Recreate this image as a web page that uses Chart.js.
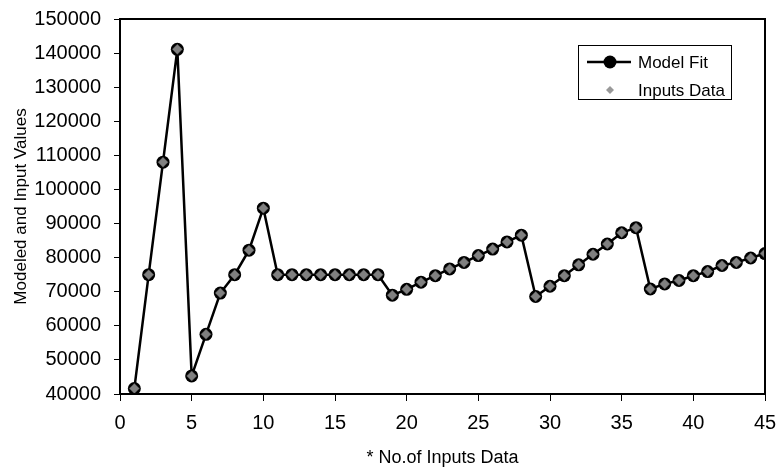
<!DOCTYPE html>
<html>
<head>
<meta charset="utf-8">
<script src="https://cdn.jsdelivr.net/npm/chart.js@4.4.0/dist/chart.umd.min.js"></script>
<style>
  html, body { margin: 0; padding: 0; background: #fff; }
  #wrap { width: 777px; height: 470px; }
</style>
</head>
<body>
<div id="wrap"><canvas id="fitChart"></canvas></div>
<script>
// Data
const sampleNo = [1, 2, 3, 4, 5, 6, 7, 8, 9, 10, 11, 12, 13, 14, 15, 16, 17, 18, 19, 20, 21, 22, 23,
  24, 25, 26, 27, 28, 29, 30, 31, 32, 33, 34, 35, 36, 37, 38, 39, 40, 41, 42, 43, 44, 45];
const modelFit = [41600, 75000, 108000, 141100, 45300, 57500, 69600, 75000, 82200, 94500,
  75000, 75000, 75000, 75000, 75000, 75000, 75000, 75000,
  69000, 70700, 72800, 74700, 76700, 78600, 80600, 82500, 84600, 86600,
  68600, 71600, 74700, 77900, 81000, 84000, 87300, 88800,
  70800, 72300, 73300, 74700, 75900, 77700, 78600, 79900, 81200];
const inputsData = [41600, 75000, 108000, 141100, 45300, 57500, 69600, 75000, 82200, 94500,
  75000, 75000, 75000, 75000, 75000, 75000, 75000, 75000,
  69000, 70700, 72800, 74700, 76700, 78600, 80600, 82500, 84600, 86600,
  68600, 71600, 74700, 77900, 81000, 84000, 87300, 88800,
  70800, 72300, 73300, 74700, 75900, 77700, 78600, 79900, 81200];
const xTicks = [0, 5, 10, 15, 20, 25, 30, 35, 40, 45];
const yTicks = [40000, 50000, 60000, 70000, 80000, 90000, 100000, 110000, 120000, 130000, 140000, 150000];

const FONT = 'Arial, "Liberation Sans", sans-serif';

function toPoints(xs, ys) {
  return xs.map((x, i) => ({ x: x, y: ys[i] }));
}

// white background + box around the plot
const frame = {
  id: 'frame',
  beforeDraw(chart) {
    const ctx = chart.ctx;
    ctx.save();
    ctx.fillStyle = '#fff';
    ctx.fillRect(0, 0, chart.width, chart.height);
    ctx.restore();
  },
  afterDatasetsDraw(chart) {
    const a = chart.chartArea;
    const ctx = chart.ctx;
    ctx.save();
    ctx.strokeStyle = '#000';
    ctx.lineWidth = 2;
    ctx.strokeRect(a.left, a.top, a.right - a.left, a.bottom - a.top);
    ctx.restore();
  }
};

// legend box drawn inside the plot, like the original
const boxLegend = {
  id: 'boxLegend',
  afterDraw(chart) {
    const ctx = chart.ctx;
    const ds = chart.data.datasets;
    const bx = 578, by = 45, bw = 153, bh = 54;
    ctx.save();
    ctx.fillStyle = '#fff';
    ctx.fillRect(bx, by, bw, bh);
    ctx.strokeStyle = '#000';
    ctx.lineWidth = 1;
    ctx.strokeRect(bx + 0.5, by + 0.5, bw, bh);

    // row 1: line + circle
    let y = 62;
    ctx.strokeStyle = ds[0].borderColor;
    ctx.lineWidth = 2.5;
    ctx.beginPath();
    ctx.moveTo(587, y);
    ctx.lineTo(631, y);
    ctx.stroke();
    ctx.fillStyle = ds[0].pointBackgroundColor;
    ctx.beginPath();
    ctx.arc(610, y, 6.5, 0, Math.PI * 2);
    ctx.fill();

    // row 2: small diamond
    let y2 = 90;
    ctx.fillStyle = '#999';
    ctx.beginPath();
    ctx.moveTo(610 - 4, y2);
    ctx.lineTo(610, y2 - 4);
    ctx.lineTo(610 + 4, y2);
    ctx.lineTo(610, y2 + 4);
    ctx.closePath();
    ctx.fill();

    ctx.fillStyle = '#000';
    ctx.font = '17px ' + FONT;
    ctx.textBaseline = 'middle';
    ctx.textAlign = 'left';
    ctx.fillText(ds[0].label, 638, y + 1);
    ctx.fillText(ds[1].label, 638, y2 + 1);
    ctx.restore();
  }
};

new Chart(document.getElementById('fitChart'), {
  type: 'line',
  data: {
    datasets: [
      {
        label: 'Model Fit',
        data: toPoints(sampleNo, modelFit),
        borderColor: '#000',
        borderWidth: 2.5,
        pointStyle: 'circle',
        pointRadius: 6.5,
        pointBackgroundColor: '#000',
        pointBorderColor: '#000',
        pointBorderWidth: 0,
        tension: 0,
        order: 2
      },
      {
        label: 'Inputs Data',
        data: toPoints(sampleNo, inputsData),
        showLine: false,
        pointStyle: 'rectRot',
        pointRadius: 5,
        pointBackgroundColor: '#808080',
        pointBorderColor: '#555',
        pointBorderWidth: 0.5,
        order: 1
      }
    ]
  },
  options: {
    responsive: true,
    maintainAspectRatio: false,
    animation: false,
    layout: { padding: { top: 19, right: 12, left: 0, bottom: 0 } },
    plugins: {
      legend: { display: false },
      tooltip: { enabled: false }
    },
    scales: {
      x: {
        type: 'linear',
        min: 0,
        max: 45,
        afterBuildTicks: (scale) => { scale.ticks = xTicks.map(v => ({ value: v })); },
        afterFit: (scale) => {
          scale.height = 76;
          scale.paddingLeft = 0;
          scale.paddingRight = 0;
        },
        ticks: {
          color: '#000',
          font: { family: FONT, size: 20 },
          padding: 10,
          maxRotation: 0,
          callback: (v) => String(v)
        },
        grid: { drawOnChartArea: false, color: '#000', tickLength: 7, tickWidth: 1 },
        border: { color: '#000', width: 2 },
        title: {
          display: true,
          text: '* No.of Inputs Data',
          color: '#000',
          font: { family: FONT, size: 18 },
          padding: { top: 0, bottom: 1 }
        }
      },
      y: {
        min: 40000,
        max: 150000,
        afterBuildTicks: (scale) => { scale.ticks = yTicks.map(v => ({ value: v })); },
        afterFit: (scale) => {
          scale.width = 120;
          scale.paddingTop = 0;
          scale.paddingBottom = 0;
        },
        ticks: {
          color: '#000',
          font: { family: FONT, size: 20 },
          padding: 13,
          callback: (v) => String(v)
        },
        grid: { drawOnChartArea: false, color: '#000', tickLength: 6, tickWidth: 1 },
        border: { color: '#000', width: 2 },
        title: {
          display: true,
          text: 'Modeled and Input Values',
          color: '#000',
          font: { family: FONT, size: 17 },
          padding: { top: 11, bottom: 0 }
        }
      }
    }
  },
  plugins: [frame, boxLegend]
});
</script>
</body>
</html>
